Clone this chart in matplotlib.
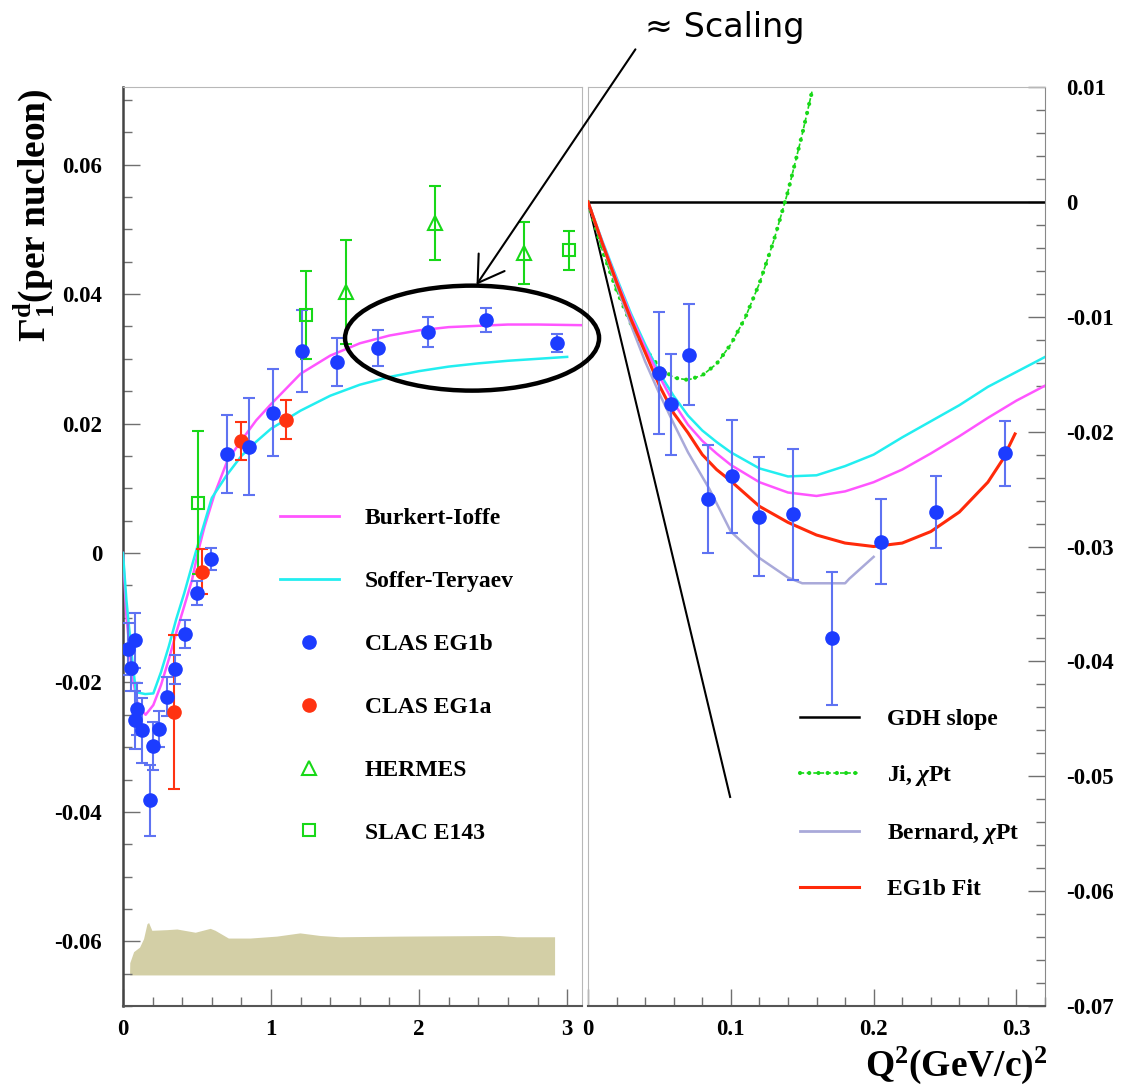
import matplotlib.pyplot as plt
from matplotlib.lines import Line2D
from matplotlib.patches import Ellipse, FancyArrowPatch
from matplotlib.ticker import MultipleLocator

plt.rcParams['font.family'] = ['Liberation Serif', 'DejaVu Serif']
plt.rcParams['font.weight'] = 'bold'
plt.rcParams['mathtext.fontset'] = 'custom'
plt.rcParams['mathtext.rm'] = 'Liberation Serif:bold'
plt.rcParams['mathtext.it'] = 'Liberation Serif:italic:bold'
plt.rcParams['mathtext.bf'] = 'Liberation Serif:bold'

# ---- left panel data (full Q2 range) ----
eg1b_q = [0.034, 0.055, 0.08, 0.08, 0.096, 0.13, 0.18, 0.205, 0.244, 0.296, 0.353,
          0.42, 0.50, 0.595, 0.706, 0.849, 1.016, 1.21, 1.447, 1.72, 2.06, 2.45, 2.93]
eg1b_g = [-0.0148, -0.0178, -0.0135, -0.0258, -0.0241, -0.0274, -0.0382, -0.0298, -0.0272,
          -0.0222, -0.018, -0.0125, -0.0062, -0.001, 0.0153, 0.0164, 0.0217, 0.0312,
          0.0295, 0.0317, 0.0342, 0.036, 0.0325]
eg1b_e = [0.004, 0.0035, 0.0043, 0.0045, 0.004, 0.005, 0.0055, 0.0037, 0.0028, 0.003,
          0.0022, 0.0022, 0.0019, 0.0017, 0.006, 0.0075, 0.0067, 0.0063, 0.0037, 0.0028,
          0.0023, 0.0019, 0.0014]

eg1a_q = [0.343, 0.535, 0.797, 1.10]
eg1a_g = [-0.0245, -0.0029, 0.0173, 0.0206]
eg1a_e = [0.0119, 0.0035, 0.003, 0.003]

hermes_q = [1.504, 2.11, 2.71]
hermes_g = [0.0403, 0.051, 0.0463]
hermes_e = [0.008, 0.0057, 0.0048]

e143_q = [0.504, 1.236, 3.01]
e143_g = [0.0078, 0.0368, 0.0468]
e143_e = [0.011, 0.0068, 0.003]

bi_q = [0.0, 0.023, 0.062, 0.1, 0.153, 0.205, 0.257, 0.31, 0.36, 0.414, 0.466, 0.505,
        0.55, 0.62, 0.706, 0.8, 0.9, 1.0, 1.2, 1.4, 1.6, 1.8, 2.0, 2.2, 2.4, 2.6, 2.8, 3.1]
bi_g = [0.0, -0.0097, -0.0189, -0.0235, -0.025, -0.0235, -0.0204, -0.0164, -0.0123,
        -0.0082, -0.0042, 0.0, 0.004, 0.0092, 0.0143, 0.0174, 0.0205, 0.023, 0.0277,
        0.0305, 0.0324, 0.0336, 0.0344, 0.0349, 0.0351, 0.0353, 0.0353, 0.0352]

st_q = [0.0, 0.023, 0.062, 0.088, 0.15, 0.205, 0.257, 0.31, 0.36, 0.414, 0.49, 0.6,
        0.7, 0.8, 0.9, 1.0, 1.2, 1.4, 1.6, 1.8, 2.0, 2.2, 2.4, 2.6, 2.8, 3.0]
st_g = [0.0, -0.0072, -0.0164, -0.0215, -0.0218, -0.0217, -0.0184, -0.0144, -0.0102,
        -0.0062, 0.0, 0.0085, 0.012, 0.015, 0.0172, 0.0192, 0.022, 0.0243, 0.026,
        0.0272, 0.0281, 0.0288, 0.0293, 0.0297, 0.03, 0.0303]

# systematic error band
band_q = [0.045, 0.046, 0.072, 0.112, 0.139, 0.162, 0.173, 0.195, 0.297, 0.364, 0.488,
          0.589, 0.622, 0.712, 0.858, 1.038, 1.195, 1.33, 1.465, 1.87, 2.54, 2.66, 2.915]
band_top = [-0.0645, -0.0633, -0.0616, -0.0609, -0.0596, -0.0573, -0.0571, -0.0583,
            -0.0582, -0.0581, -0.0586, -0.058, -0.0583, -0.0595, -0.0595, -0.0592,
            -0.0587, -0.0591, -0.0593, -0.0592, -0.0591, -0.0593, -0.0593]
band_floor = -0.0652

# ---- right panel data (low Q2) ----
low_q = [0.0494, 0.0584, 0.0708, 0.0842, 0.1005, 0.12, 0.1438, 0.171, 0.205, 0.244, 0.292]
low_g = [-0.0149, -0.0176, -0.0133, -0.0259, -0.0239, -0.0274, -0.0272, -0.038, -0.0296,
         -0.027, -0.0219]
low_e = [0.0053, 0.0044, 0.0044, 0.0047, 0.0049, 0.0052, 0.0057, 0.0058, 0.0037, 0.0031,
         0.0028]

gdh_q = [0.0, 0.0995]
gdh_g = [0.0, -0.0518]

ji_q = [0.0, 0.01, 0.02, 0.03, 0.04, 0.05, 0.06, 0.07, 0.08, 0.09, 0.10, 0.11, 0.12,
        0.13, 0.14, 0.15, 0.157]
ji_g = [0.0, -0.0042, -0.0077, -0.0106, -0.0128, -0.0144, -0.0153, -0.0155, -0.0151,
        -0.0141, -0.0124, -0.0101, -0.0071, -0.0034, 0.0009, 0.0059, 0.0097]

bern_q = [0.0, 0.01, 0.02, 0.03, 0.04, 0.05, 0.06, 0.07, 0.085, 0.10, 0.12, 0.14, 0.15,
          0.18, 0.183, 0.20]
bern_g = [0.0, -0.0037, -0.0073, -0.0107, -0.0139, -0.0167, -0.0193, -0.0218, -0.025,
          -0.0287, -0.031, -0.0327, -0.0332, -0.0332, -0.0328, -0.0309]

curve_q = [0.0, 0.01, 0.02, 0.03, 0.04, 0.05, 0.06, 0.07, 0.08, 0.09, 0.10, 0.12, 0.14,
           0.16, 0.18, 0.20, 0.22, 0.24, 0.26, 0.28, 0.30, 0.32]
bi_low = [0.0, -0.0035, -0.0068, -0.0099, -0.0127, -0.0152, -0.0175, -0.0194, -0.0208,
          -0.0219, -0.0229, -0.0244, -0.0253, -0.0256, -0.0252, -0.0244, -0.0233, -0.0219,
          -0.0204, -0.0188, -0.0173, -0.016]
st_low = [0.0, -0.0034, -0.0066, -0.0097, -0.0124, -0.0149, -0.0169, -0.0186, -0.0199,
          -0.0209, -0.0218, -0.0232, -0.0239, -0.0238, -0.023, -0.022, -0.0205, -0.0191,
          -0.0177, -0.0161, -0.0148, -0.0135]

fit_q = [0.0, 0.01, 0.02, 0.03, 0.04, 0.05, 0.06, 0.07, 0.08, 0.09, 0.10, 0.12, 0.14,
         0.16, 0.18, 0.20, 0.22, 0.24, 0.26, 0.28, 0.29, 0.299]
fit_g = [0.0, -0.0036, -0.007, -0.0102, -0.0131, -0.016, -0.0184, -0.0201, -0.022,
         -0.0233, -0.0243, -0.0265, -0.0279, -0.029, -0.0297, -0.030, -0.0297, -0.0287,
         -0.027, -0.0244, -0.0225, -0.0202]

left_yticks = [-0.06, -0.04, -0.02, 0.0, 0.02, 0.04, 0.06]
left_ylabels = ['-0.06', '-0.04', '-0.02', '0', '0.02', '0.04', '0.06']
left_xticks = [0, 1, 2, 3]
left_xlabels = ['0', '1', '2', '3']
right_yticks = [-0.07, -0.06, -0.05, -0.04, -0.03, -0.02, -0.01, 0.0, 0.01]
right_ylabels = ['-0.07', '-0.06', '-0.05', '-0.04', '-0.03', '-0.02', '-0.01', '0', '0.01']
right_xticks = [0, 0.1, 0.2, 0.3]
right_xlabels = ['0', '0.1', '0.2', '0.3']

# colours
c_blue = '#1c3cff'
c_blue_err = '#5f73f2'
c_red = '#ff3311'
c_green = '#18d818'
c_mag = '#ff55ff'
c_cyan = '#22eef0'
c_bern = '#a9a9d9'
c_fit = '#ff2a0a'

fig = plt.figure(figsize=(11.25, 10.89), dpi=100)
ax1 = fig.add_axes([0.1093, 0.0762, 0.408, 0.8439])
ax2 = fig.add_axes([0.5227, 0.0762, 0.4062, 0.8439])
ax2.patch.set_alpha(0)

# left panel
ax1.fill_between(band_q, band_top, band_floor, color='#d3cfa6', lw=0, zorder=1)
ax1.plot(bi_q, bi_g, color=c_mag, lw=1.8, zorder=3)
ax1.plot(st_q, st_g, color=c_cyan, lw=1.8, zorder=3)

err_kw = dict(elinewidth=1.5, capsize=4.5, capthick=1.5, zorder=4)
ax1.errorbar(e143_q, e143_g, yerr=e143_e, fmt='s', ms=9, mfc='none', mec=c_green,
             mew=1.5, ecolor=c_green, **err_kw)
ax1.errorbar(hermes_q, hermes_g, yerr=hermes_e, fmt='^', ms=10, mfc='none', mec=c_green,
             mew=1.5, ecolor=c_green, **err_kw)
ax1.errorbar(eg1a_q, eg1a_g, yerr=eg1a_e, fmt='o', ms=9.5, color=c_red, ecolor=c_red, **err_kw)
ax1.errorbar(eg1b_q, eg1b_g, yerr=eg1b_e, fmt='o', ms=9.5, color=c_blue, ecolor=c_blue_err,
             **err_kw)

ax1.set_xlim(0, 3.1)
ax1.set_ylim(-0.07, 0.072)
ax1.set_xticks(left_xticks, left_xlabels)
ax1.set_yticks(left_yticks, left_ylabels)
ax1.xaxis.set_minor_locator(MultipleLocator(0.2))
ax1.yaxis.set_minor_locator(MultipleLocator(0.005))

left_handles = [
    Line2D([], [], color=c_mag, lw=2),
    Line2D([], [], color=c_cyan, lw=2),
    Line2D([], [], ls='none', marker='o', ms=9.5, color=c_blue),
    Line2D([], [], ls='none', marker='o', ms=9.5, color=c_red),
    Line2D([], [], ls='none', marker='^', ms=10, mfc='none', mec=c_green, mew=1.5),
    Line2D([], [], ls='none', marker='s', ms=9, mfc='none', mec=c_green, mew=1.5),
]
left_labels = ['Burkert-Ioffe', 'Soffer-Teryaev', 'CLAS EG1b', 'CLAS EG1a', 'HERMES',
               'SLAC E143']
ax1.legend(left_handles, left_labels, loc='upper left', bbox_to_anchor=(0.342, 0.542),
           frameon=False, borderpad=0, borderaxespad=0, handlelength=2.5,
           handletextpad=1.1, labelspacing=1.75, numpoints=1,
           prop={'size': 17, 'weight': 'bold'})

# right panel
ji_dash_style = (0, (2.5, 1.5))
ji_dot_style = (0, (0.01, 2.2))
ax2.axhline(0, color='black', lw=1.8, zorder=2)
ax2.plot(gdh_q, gdh_g, color='black', lw=1.5, zorder=3)
ax2.plot(ji_q, ji_g, color=c_green, lw=1.2, ls=ji_dash_style, zorder=3)
ax2.plot(ji_q, ji_g, color=c_green, lw=3.0, ls=ji_dot_style, dash_capstyle='round', zorder=3)
ax2.plot(bern_q, bern_g, color=c_bern, lw=1.8, zorder=3)
ax2.plot(curve_q, st_low, color=c_cyan, lw=1.8, zorder=3)
ax2.plot(curve_q, bi_low, color=c_mag, lw=1.8, zorder=3)
ax2.plot(fit_q, fit_g, color=c_fit, lw=2.2, zorder=3)
ax2.errorbar(low_q, low_g, yerr=low_e, fmt='o', ms=9.5, color=c_blue, ecolor=c_blue_err,
             **err_kw)

ax2.set_xlim(0, 0.32)
ax2.set_ylim(-0.07, 0.01)
ax2.set_xticks(right_xticks, right_xlabels)
ax2.set_yticks(right_yticks, right_ylabels)
ax2.xaxis.set_minor_locator(MultipleLocator(0.02))
ax2.yaxis.set_minor_locator(MultipleLocator(0.002))
ax2.yaxis.tick_right()

right_handles = [
    Line2D([], [], color='black', lw=1.8),
    (Line2D([], [], color=c_green, lw=1.2, ls=ji_dash_style),
     Line2D([], [], color=c_green, lw=3.0, ls=ji_dot_style, dash_capstyle='round')),
    Line2D([], [], color=c_bern, lw=2),
    Line2D([], [], color=c_fit, lw=2.2),
]
right_labels = ['GDH slope', r'Ji, $\chi$Pt', r'Bernard, $\chi$Pt', 'EG1b Fit']
ax2.legend(right_handles, right_labels, loc='upper left', bbox_to_anchor=(0.464, 0.324),
           frameon=False, borderpad=0, borderaxespad=0, handlelength=2.5,
           handletextpad=1.2, labelspacing=1.4, prop={'size': 17, 'weight': 'bold'})

for ax in (ax1, ax2):
    ax.tick_params(which='both', direction='in', color='#707070', width=1,
                   labelsize=16.5, labelcolor='black')
    ax.tick_params(which='major', length=12.5)
    ax.tick_params(which='minor', length=6.5)
    ax.tick_params(axis='x', pad=9)
    ax.tick_params(axis='y', pad=15)
    ax.spines['top'].set_color('#b8b8b8')
    ax.spines['bottom'].set_color('#555555')
    ax.spines['bottom'].set_linewidth(1.5)

ax1.tick_params(which='both', top=False, right=False)
ax1.spines['left'].set_color('#444444')
ax1.spines['left'].set_linewidth(1.8)
ax1.spines['right'].set_color('#b8b8b8')
ax2.tick_params(which='both', left=False, top=False, right=True,
                labelleft=False, labelright=True)
ax2.spines['left'].set_color('#b8b8b8')
ax2.spines['right'].set_color('#888888')

# axis titles
fig.text(0.031, 0.919, r'$\Gamma_1^{\mathrm{d}}$(per nucleon)', rotation=90, ha='center',
         va='top', fontsize=27, fontweight='bold')
fig.text(0.9316, 0.022, r'Q$^2$(GeV/c)$^2$', ha='right', va='center', fontsize=27,
         fontweight='bold')

# scaling annotation
fig.add_artist(Ellipse((0.4196, 0.6895), 0.2258, 0.0964, transform=fig.transFigure,
                       fill=False, ec='black', lw=3.2))
fig.add_artist(FancyArrowPatch((0.5662, 0.9568), (0.4222, 0.7365), transform=fig.transFigure,
                               arrowstyle='->,head_length=0.4,head_width=0.25',
                               mutation_scale=45, lw=1.5, color='black'))
fig.text(0.5733, 0.9752, '\u2248 Scaling', family='DejaVu Sans', fontweight='normal',
         fontsize=24, ha='left', va='center')

fig.savefig('out.png', dpi=100)
